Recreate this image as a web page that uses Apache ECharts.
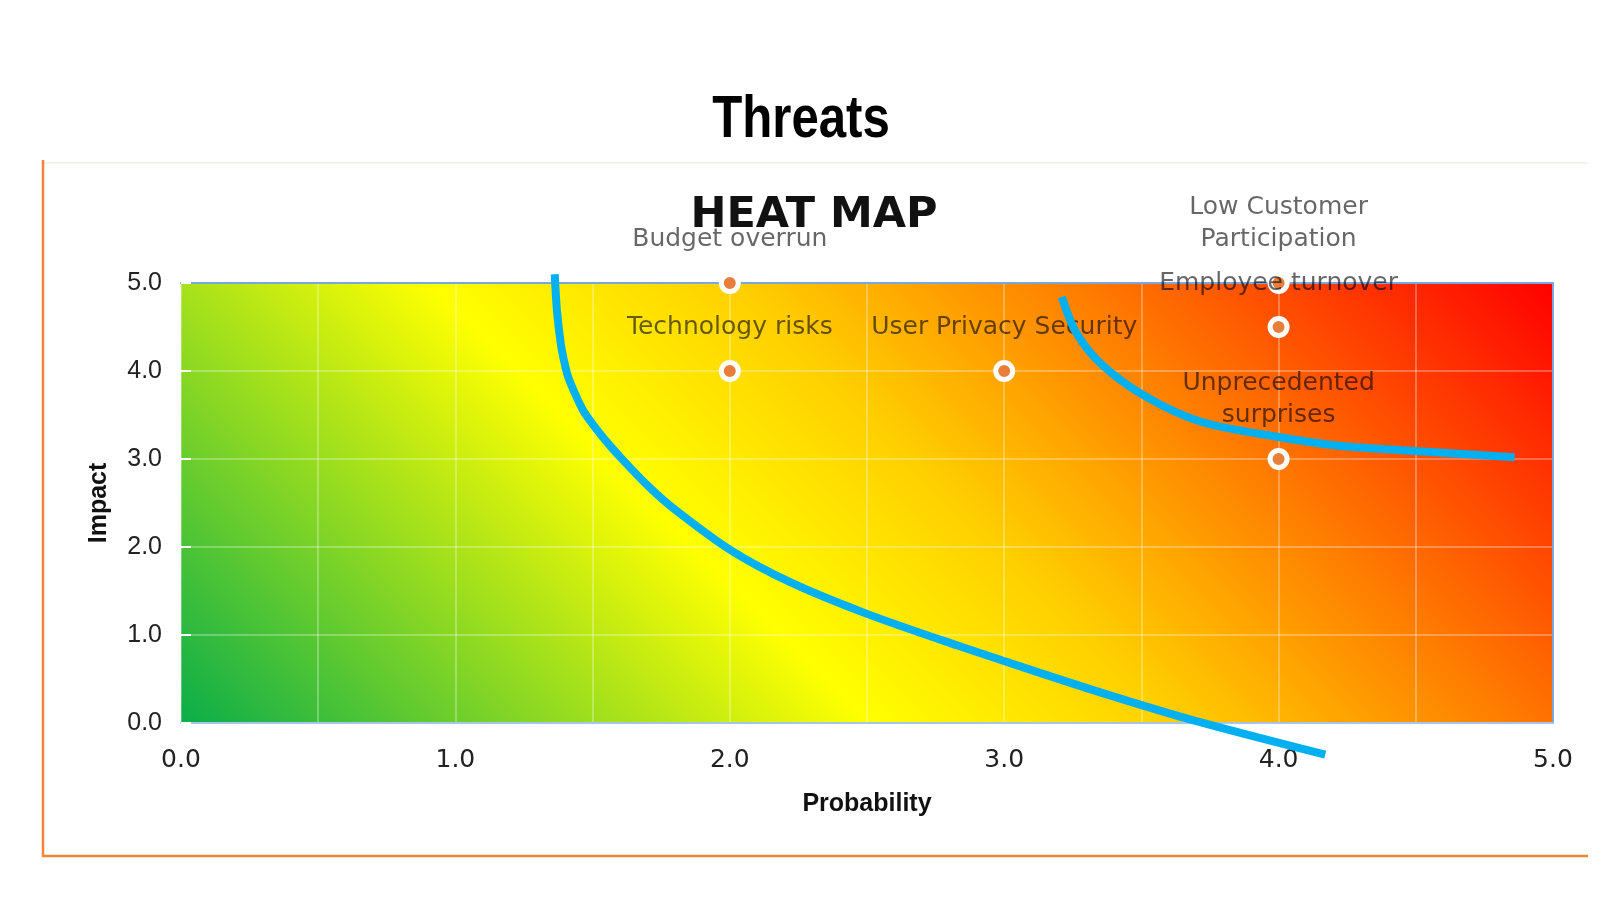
<!DOCTYPE html>
<html>
<head>
<meta charset="utf-8">
<script src="https://cdn.jsdelivr.net/npm/echarts@6/dist/echarts.min.js"></script>
<style>
html,body{margin:0;padding:0;background:#fff;}
#c{width:1614px;height:904px;}
</style>
</head>
<body>
<div id="c"></div>
<script>
// ---- data ----
const riskNames = ['Budget overrun', 'Technology risks', 'User Privacy Security', 'Low Customer\nParticipation', 'Employee turnover', 'Unprecedented\nsurprises'];
const probability = [2, 2, 3, 4, 4, 4];
const impact = [5, 4, 4, 5, 4.5, 3];

const curve1X = [1.362, 1.370, 1.384, 1.395, 1.41, 1.435, 1.464, 1.49, 1.55, 1.61, 1.70, 1.79, 2.0, 2.22, 2.5, 2.83, 3.13, 3.4, 3.69, 4.17];
const curve1Y = [5.1, 4.69, 4.31, 4.13, 3.94, 3.75, 3.56, 3.44, 3.20, 2.99, 2.70, 2.45, 1.97, 1.60, 1.24, 0.88, 0.57, 0.30, 0.03, -0.36];
const curve2X = [3.21, 3.26, 3.35, 3.51, 3.72, 4.0, 4.22, 4.45, 4.86];
const curve2Y = [4.84, 4.45, 4.09, 3.72, 3.42, 3.25, 3.15, 3.10, 3.02];

const xTicks = [0, 1, 2, 3, 4, 5];
const yTicks = [0, 1, 2, 3, 4, 5];

// ---- layout ----
const CW = 1614, CH = 904;
const gridLeft = 181, gridTop = 283, gridRight = 61, gridBottom = 181;
const W = CW - gridLeft - gridRight, H = CH - gridTop - gridBottom;
const k = (W + H) / 4;
const bg = new echarts.graphic.LinearGradient(
  0.5 - k / W, 0.5 + k / H, 0.5 + k / W, 0.5 - k / H,
  [
    { offset: 0, color: '#0aad4a' },
    { offset: 0.38, color: '#ffff00' },
    { offset: 0.55, color: '#ffcf00' },
    { offset: 0.75, color: '#ff7600' },
    { offset: 1, color: '#ff0000' }
  ]
);

const chart = echarts.init(document.getElementById('c'), null, { renderer: 'canvas' });
const gridWhite = 'rgba(255,255,255,0.38)';
const borderBlue = '#7ba7dd';

chart.setOption({
  animation: false,
  backgroundColor: '#fff',
  title: [
    {
      text: 'HEAT MAP', left: 809, top: 189, textAlign: 'center',
      textStyle: { fontFamily: '"DejaVu Sans", sans-serif', fontWeight: 'bold', fontSize: 43, color: '#111' }
    }
  ],
  graphic: [
    {
      type: 'text', x: 801, y: 120, scaleX: 0.82,
      style: { text: 'Threats', x: 0, y: 0, align: 'center', verticalAlign: 'middle',
        font: 'bold 60px "Liberation Sans", Arial, sans-serif', fill: '#000' }
    },
    { type: 'line', shape: { x1: 43, y1: 163, x2: 1588, y2: 163 }, style: { stroke: '#fbece2', lineWidth: 1.5 } },
    { type: 'line', shape: { x1: 43, y1: 160, x2: 43, y2: 857 }, style: { stroke: '#f0843c', lineWidth: 2.5 } },
    { type: 'line', shape: { x1: 42, y1: 856, x2: 1588, y2: 856 }, style: { stroke: '#f0843c', lineWidth: 2.5 } }
  ],
  grid: {
    left: gridLeft, top: gridTop, right: gridRight, bottom: gridBottom,
    show: true, backgroundColor: bg, borderWidth: 0,
    containLabel: false, outerBoundsMode: 'none'
  },
  xAxis: [
    {
      type: 'value', min: xTicks[0], max: xTicks[xTicks.length - 1], interval: 1,
      name: 'Probability', nameLocation: 'middle', nameGap: 69,
      nameTextStyle: { fontFamily: '"Liberation Sans", Arial, sans-serif', fontWeight: 'bold', fontSize: 25, color: '#111' },
      axisLine: { show: true, lineStyle: { color: '#a6c4ec', width: 2 } },
      axisTick: { show: false },
      axisLabel: { show: true, margin: 25, fontSize: 25, color: '#222', fontFamily: '"DejaVu Sans", sans-serif',
        showMinLabel: true, showMaxLabel: true, formatter: v => v.toFixed(1) },
      splitLine: { show: true, lineStyle: { color: gridWhite, width: 1.5 } },
      minorTick: { show: false, splitNumber: 2 },
      minorSplitLine: { show: true, lineStyle: { color: gridWhite, width: 1.5 } }
    },
    {
      type: 'value', position: 'top', min: 0, max: 5, interval: 1,
      axisLine: { show: true, onZero: false, lineStyle: { color: borderBlue, width: 2 } },
      axisTick: { show: false }, axisLabel: { show: false }, splitLine: { show: false }
    }
  ],
  yAxis: [
    {
      type: 'value', min: yTicks[0], max: yTicks[yTicks.length - 1], interval: 1,
      name: 'Impact', nameLocation: 'middle', nameGap: 69,
      nameTextStyle: { fontFamily: '"Liberation Sans", Arial, sans-serif', fontWeight: 'bold', fontSize: 25, color: '#111' },
      axisLine: { show: false },
      axisTick: { show: true, inside: true, length: 10, lineStyle: { color: '#fff', width: 2 } },
      axisLabel: { show: true, margin: 19, fontSize: 25, color: '#222', fontFamily: '"Liberation Sans", Arial, sans-serif',
        showMinLabel: true, showMaxLabel: true, formatter: v => v.toFixed(1) },
      splitLine: { show: true, lineStyle: { color: gridWhite, width: 1.5 } }
    },
    {
      type: 'value', position: 'right', min: 0, max: 5, interval: 1,
      axisLine: { show: true, onZero: false, lineStyle: { color: borderBlue, width: 2 } },
      axisTick: { show: false }, axisLabel: { show: false }, splitLine: { show: false }
    }
  ],
  series: [
    {
      type: 'scatter', z: 5, clip: false,
      xAxisIndex: 0, yAxisIndex: 0,
      symbolSize: 17,
      itemStyle: { color: '#e97e3a', borderColor: '#ffffff', borderWidth: 5, opacity: 1 },
      label: {
        show: true, position: 'top', distance: 17, formatter: '{b}',
        fontFamily: '"DejaVu Sans", sans-serif', fontSize: 25, lineHeight: 32,
        color: 'rgba(0,0,0,0.6)', align: 'center'
      },
      labelLayout: { hideOverlap: false },
      data: probability.map((p, i) => ({ name: riskNames[i], value: [p, impact[i]] }))
    },
    {
      type: 'line', z: 10, clip: false, showSymbol: false, smooth: 0.3,
      xAxisIndex: 0, yAxisIndex: 0,
      lineStyle: { color: '#00b0f0', width: 8 },
      data: curve1X.map((x, i) => [x, curve1Y[i]])
    },
    {
      type: 'line', z: 10, clip: false, showSymbol: false, smooth: 0.3,
      xAxisIndex: 0, yAxisIndex: 0,
      lineStyle: { color: '#00b0f0', width: 8 },
      data: curve2X.map((x, i) => [x, curve2Y[i]])
    }
  ]
});
</script>
</body>
</html>
